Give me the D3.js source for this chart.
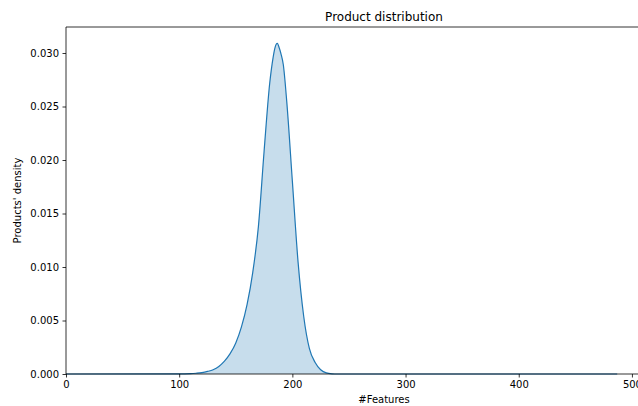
<!DOCTYPE html>
<html>
<head>
<meta charset="utf-8">
<script src="https://cdn.jsdelivr.net/npm/d3@7"></script>
<style>
  html, body { margin: 0; padding: 0; background: #fff; overflow: hidden; }
  svg { display: block; font-family: "DejaVu Sans", sans-serif; }
</style>
</head>
<body>
<svg id="chart" width="638" height="406"></svg>
<script>
// ---- data ----
const featureValues = [0, 100, 110, 115, 120, 125, 130, 135, 140, 145, 150, 155, 160, 165, 170, 175, 180, 183, 184.5, 186.7, 188.5, 190, 192, 195, 200, 205, 210, 215, 220, 225, 230, 235, 240, 487];
const densityValues = [0, 0.000005, 0.00003, 0.00007, 0.00013, 0.00024, 0.0004, 0.0007, 0.0012, 0.0019, 0.0029, 0.0044, 0.0065, 0.0095, 0.0138, 0.0208, 0.0272, 0.0296, 0.03044, 0.0309, 0.03044, 0.0299, 0.0289, 0.0255, 0.0180, 0.0105, 0.0054, 0.0024, 0.0011, 0.0004, 0.0001, 0.00002, 0, 0];
const xTicks = [0, 100, 200, 300, 400, 500];
const yTicks = [0, 0.005, 0.010, 0.015, 0.020, 0.025, 0.030];
const titleText = "Product distribution";
const xLabel = "#Features";
const yLabel = "Products' density";

const data = featureValues.map((x, i) => ({ x, y: densityValues[i] }));

const svg = d3.select("#chart");
const margin = { left: 66, top: 27, right: 702, bottom: 374 };

const x = d3.scaleLinear().domain([0, 561.9]).range([margin.left, margin.right]);
const y = d3.scaleLinear().domain([0, 0.03243]).range([margin.bottom, margin.top]);

const color = "#1f77b4";

// fill
svg.append("path")
  .datum(data)
  .attr("fill", color)
  .attr("fill-opacity", 0.25)
  .attr("stroke", "none")
  .attr("d", d3.area().x(d => x(d.x)).y0(y(0)).y1(d => y(d.y)).curve(d3.curveMonotoneX));

// line
svg.append("path")
  .datum(data)
  .attr("fill", "none")
  .attr("stroke", color)
  .attr("stroke-width", 1.2)
  .attr("d", d3.line().x(d => x(d.x)).y(d => y(d.y)).curve(d3.curveMonotoneX));

// axes
const xAxis = svg.append("g")
  .attr("transform", `translate(0,${margin.bottom})`)
  .call(d3.axisBottom(x).tickValues(xTicks).tickFormat(d3.format("d")).tickSize(3.5).tickPadding(3.5));
const yAxis = svg.append("g")
  .attr("transform", `translate(${margin.left},0)`)
  .call(d3.axisLeft(y).tickValues(yTicks).tickFormat(d3.format(".3f")).tickSize(3.5).tickPadding(3.5));

[xAxis, yAxis].forEach(g => {
  g.select(".domain").remove();
  g.selectAll("text").attr("font-size", 10).attr("fill", "#000").attr("font-family", "DejaVu Sans, sans-serif");
  g.selectAll("line").attr("stroke", "#000").attr("stroke-width", 0.8);
});

// spines
svg.append("line").attr("x1", margin.left).attr("x2", margin.left).attr("y1", margin.top).attr("y2", margin.bottom)
  .attr("stroke", "#000").attr("stroke-width", 0.8);
svg.append("line").attr("x1", margin.left).attr("x2", margin.right).attr("y1", margin.bottom).attr("y2", margin.bottom)
  .attr("stroke", "#000").attr("stroke-width", 0.8);
svg.append("line").attr("x1", margin.left).attr("x2", margin.right).attr("y1", margin.top).attr("y2", margin.top)
  .attr("stroke", "#000").attr("stroke-width", 0.8);

// title
svg.append("text")
  .attr("x", (margin.left + margin.right) / 2)
  .attr("y", 21)
  .attr("text-anchor", "middle")
  .attr("font-size", 12)
  .attr("fill", "#000")
  .text(titleText);

// x label
svg.append("text")
  .attr("x", (margin.left + margin.right) / 2)
  .attr("y", 403)
  .attr("text-anchor", "middle")
  .attr("font-size", 10)
  .attr("fill", "#000")
  .text(xLabel);

// y label
svg.append("text")
  .attr("transform", `translate(21,${(margin.top + margin.bottom) / 2}) rotate(-90)`)
  .attr("text-anchor", "middle")
  .attr("font-size", 10)
  .attr("fill", "#000")
  .text(yLabel);
</script>
</body>
</html>
